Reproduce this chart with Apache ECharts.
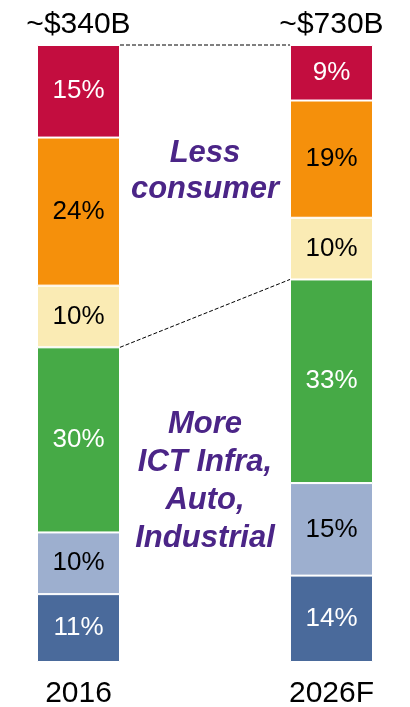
<!DOCTYPE html>
<html>
<head>
<meta charset="utf-8">
<script src="https://cdn.jsdelivr.net/npm/echarts@6/dist/echarts.min.js"></script>
<style>
html,body{margin:0;padding:0;background:#fff;}
#chart{width:410px;height:707px;}
</style>
</head>
<body>
<div id="chart"></div>
<script>
// ---- data ----
const years = ['2016', '2026F'];
const totals = ['~$340B', '~$730B'];
const segDarkBlue  = [11, 14];
const segLightBlue = [10, 15];
const segGreen     = [30, 33];
const segYellow    = [10, 10];
const segOrange    = [24, 19];
const segCrimson   = [15, 9];
const noteTop = ['Less', 'consumer'];
const noteBottom = ['More', 'ICT Infra,', 'Auto,', 'Industrial'];

// ---- styling ----
const BAR_W = 83;
const FONT = '"Liberation Sans", Arial, sans-serif';
const segments = [
  { name: 'Seg 1', data: segDarkBlue,  color: '#4A6A9B', text: '#fff' },
  { name: 'Seg 2', data: segLightBlue, color: '#9DAFCF', text: '#000' },
  { name: 'Seg 3', data: segGreen,     color: '#46AA46', text: '#fff' },
  { name: 'Seg 4', data: segYellow,    color: '#FAEBB4', text: '#000' },
  { name: 'Seg 5', data: segOrange,    color: '#F5900B', text: '#000' },
  { name: 'Seg 6', data: segCrimson,   color: '#C30D3F', text: '#fff' }
];

const sumTo = (n, i) => segments.slice(0, n).reduce((a, s) => a + s.data[i], 0);
const connectors = [
  [0, sumTo(6, 0), sumTo(6, 1)],
  [0, sumTo(3, 0), sumTo(3, 1)]
];

const chart = echarts.init(document.getElementById('chart'), null, { renderer: 'canvas' });

const series = segments.map(s => ({
  name: s.name,
  type: 'bar',
  stack: 'total',
  barWidth: BAR_W,
  data: s.data,
  itemStyle: { color: s.color, borderColor: '#fff', borderWidth: 1 },
  label: {
    show: true,
    position: 'inside',
    formatter: '{c}%',
    color: s.text,
    fontSize: 26,
    fontFamily: FONT
  }
}));

series.push({
  type: 'custom',
  encode: { x: 0, y: [1, 2] },
  data: connectors,
  silent: true,
  z: 5,
  renderItem: function (params, api) {
    const p1 = api.coord([0, api.value(1)]);
    const p2 = api.coord([1, api.value(2)]);
    return {
      type: 'line',
      shape: { x1: p1[0] + BAR_W / 2, y1: p1[1], x2: p2[0] - BAR_W / 2, y2: p2[1] },
      style: { stroke: '#000', lineWidth: 1, lineDash: [4, 2] }
    };
  }
});

const graphics = [];
noteTop.forEach((t, i) => graphics.push({
  type: 'text', left: 'center', top: 138 + i * 36, z: 100,
  style: { text: t, font: 'italic bold 31px ' + FONT, fill: '#4B2587', textAlign: 'center' }
}));
noteBottom.forEach((t, i) => graphics.push({
  type: 'text', left: 'center', top: 409 + i * 38, z: 100,
  style: { text: t, font: 'italic bold 31px ' + FONT, fill: '#4B2587', textAlign: 'center' }
}));

chart.setOption({
  animation: false,
  backgroundColor: '#fff',
  grid: { left: 78.5, right: 78.5, top: 45, bottom: 45, containLabel: false, outerBoundsMode: 'none' },
  xAxis: [
    {
      type: 'category', data: years, position: 'bottom', boundaryGap: false,
      axisLine: { show: false }, axisTick: { show: false },
      axisLabel: { fontSize: 30, color: '#000', fontFamily: FONT, margin: 17 }
    },
    {
      type: 'category', data: totals, position: 'top', boundaryGap: false,
      axisLine: { show: false }, axisTick: { show: false },
      axisLabel: { fontSize: 30, color: '#000', fontFamily: FONT, margin: 5 }
    }
  ],
  yAxis: { type: 'value', min: 0, max: 100, show: false, splitLine: { show: false } },
  series: series,
  graphic: graphics
});
</script>
</body>
</html>
